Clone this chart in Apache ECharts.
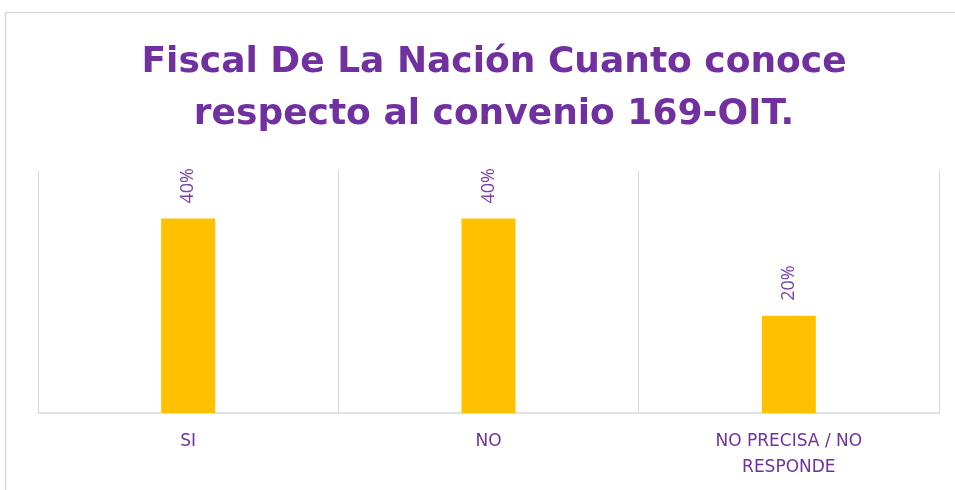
<!DOCTYPE html>
<html>
<head>
<meta charset="utf-8">
<script src="https://cdn.jsdelivr.net/npm/echarts@6/dist/echarts.min.js"></script>
<style>
  html, body { margin: 0; padding: 0; background: #fff; }
  #chart { width: 955px; height: 490px; }
</style>
</head>
<body>
<div id="chart"></div>
<script>
// datos del grafico
const titulo = 'Fiscal De La Nación Cuanto conoce\nrespecto al convenio 169-OIT.'
const categorias = ['SI', 'NO', 'NO PRECISA / NO\nRESPONDE']
const valores = [0.4, 0.4, 0.2]

const morado = '#7030A0'

let myChart = echarts.init(document.getElementById('chart'))

let option = {
  animation: false,
  graphic: [
    {
      type: 'rect',
      shape: { x: 5.5, y: 12.5, width: 960, height: 490 },
      style: { fill: 'none', stroke: '#d9d9d9', lineWidth: 1.5 },
      silent: true
    }
  ],
  title: {
    text: titulo,
    left: 489,
    textAlign: 'center',
    top: 32,
    textStyle: {
      fontFamily: 'DejaVu Sans',
      fontWeight: 'bold',
      fontSize: 36,
      lineHeight: 52,
      color: morado
    }
  },
  grid: {
    left: 38,
    right: 16,
    top: 170,
    bottom: 77
  },
  xAxis: {
    type: 'category',
    data: categorias,
    axisLine: { lineStyle: { color: '#d9d9d9', width: 1.5 } },
    axisTick: { show: false },
    splitLine: { show: true, lineStyle: { color: '#d9d9d9', width: 1 } },
    axisLabel: {
      color: morado,
      fontFamily: 'DejaVu Sans',
      fontSize: 17,
      lineHeight: 26,
      margin: 16,
      interval: 0
    }
  },
  yAxis: {
    type: 'value',
    min: 0,
    max: 0.5,
    show: false,
    splitLine: { show: false }
  },
  series: [
    {
      type: 'bar',
      data: valores,
      barWidth: 54,
      itemStyle: { color: '#FFC000' },
      label: {
        show: true,
        position: 'top',
        rotate: 90,
        align: 'left',
        verticalAlign: 'middle',
        distance: 15,
        color: '#7a3fa8',
        fontFamily: 'Open Sans',
        fontSize: 18,
        formatter: p => Math.round(p.value * 100) + '%'
      }
    }
  ]
}
myChart.setOption(option)
</script>
</body>
</html>
